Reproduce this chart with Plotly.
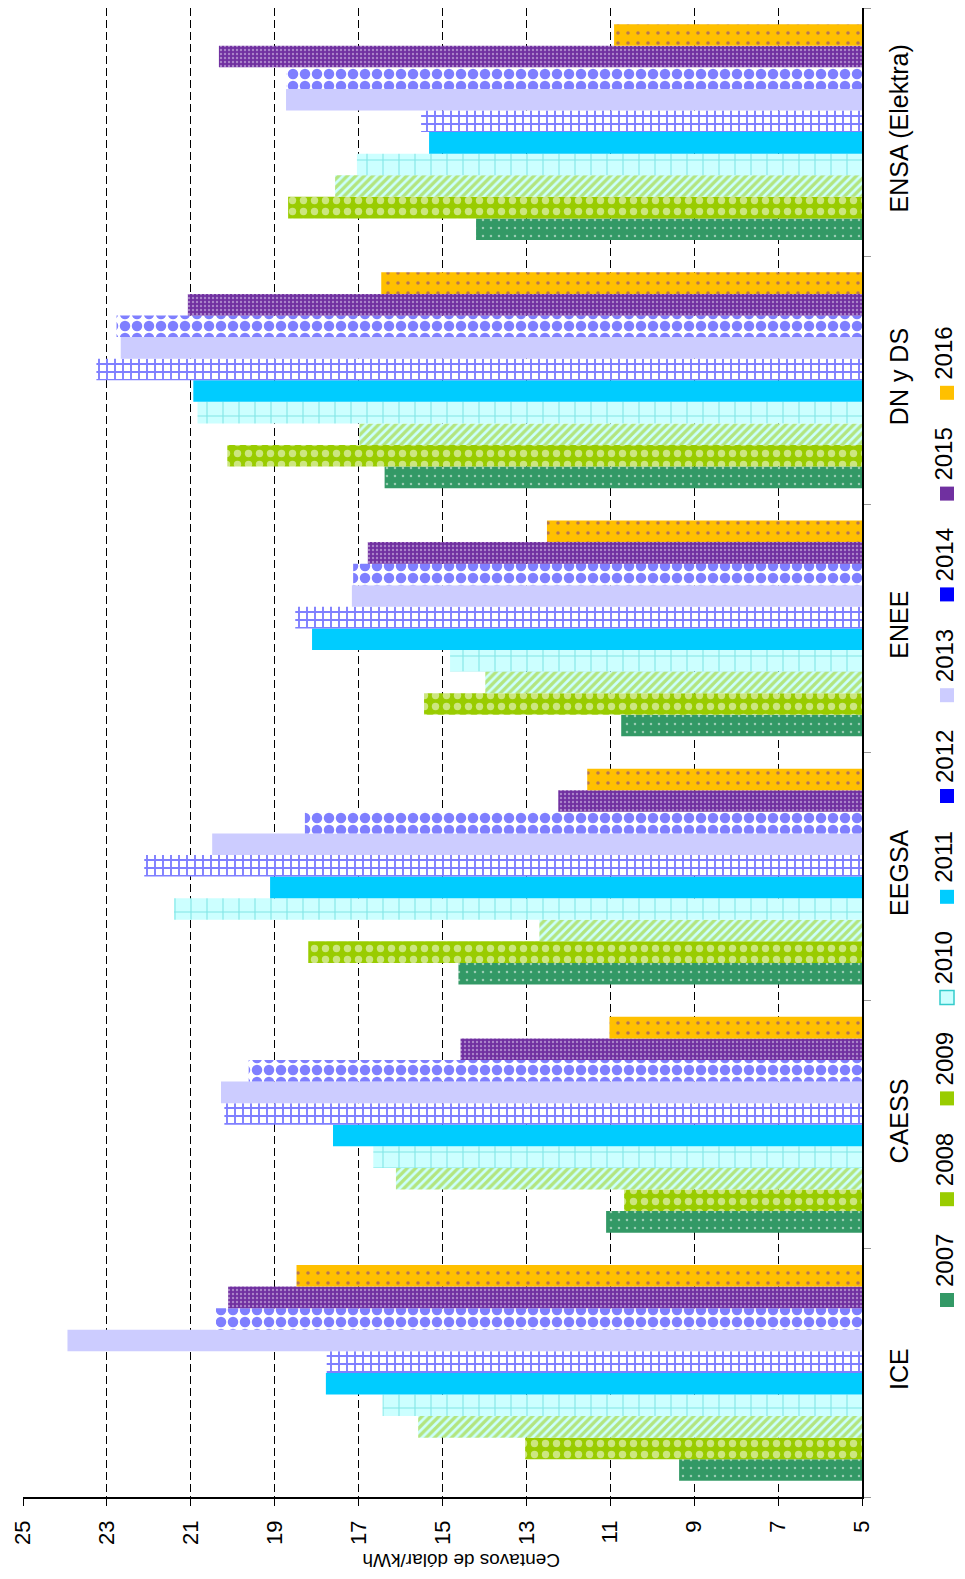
import plotly.graph_objects as go

categories = ["ICE", "CAESS", "EEGSA", "ENEE", "DN y DS", "ENSA (Elektra)"]
years = ["2007", "2008", "2009", "2010", "2011", "2012", "2013", "2014", "2015", "2016"]

v2007 = [9.36, 11.10, 14.62, 10.74, 16.38, 14.20]
v2008 = [13.03, 10.67, 18.20, 15.44, 20.13, 18.68]
v2009 = [15.58, 16.11, 12.69, 13.98, 16.98, 17.56]
v2010 = [16.43, 16.65, 21.40, 14.82, 20.84, 17.04]
v2011 = [17.78, 17.61, 19.11, 18.11, 20.94, 15.32]
v2012 = [17.76, 20.20, 22.11, 18.51, 23.25, 15.51]
v2013 = [23.94, 20.28, 20.49, 17.16, 22.67, 18.73]
v2014 = [20.40, 19.62, 18.28, 17.13, 22.77, 18.73]
v2015 = [20.11, 14.57, 12.24, 16.78, 21.07, 20.33]
v2016 = [18.48, 11.02, 11.55, 12.51, 16.46, 10.91]
series = [v2007, v2008, v2009, v2010, v2011, v2012, v2013, v2014, v2015, v2016]

tick_vals = [5, 7, 9, 11, 13, 15, 17, 19, 21, 23, 25]
axis_title = "Centavos de dólar/kWh"

# style per year: (key colour, pattern dict)
styles = [
    ("#339966", dict(shape=".", fgcolor="#ffffff", bgcolor="#339966", size=8, solidity=0.08)),
    ("#99cc00", dict(shape=".", fgcolor="#ffffff", bgcolor="#99cc00", size=11, solidity=0.35)),
    ("#99cc00", dict(shape="/", fgcolor="#99cc00", bgcolor="#ccffff", size=6, solidity=0.55)),
    ("#ccffff", dict(shape="+", fgcolor="#33cccc", bgcolor="#ccffff", size=16, solidity=0.13)),
    ("#00ccff", dict(shape="", fgcolor="#00ccff", bgcolor="#00ccff")),
    ("#0000ff", dict(shape="+", fgcolor="#0000ff", bgcolor="#ffffff", size=8, solidity=0.42)),
    ("#ccccff", dict(shape="", fgcolor="#ccccff", bgcolor="#ccccff")),
    ("#0000ff", dict(shape=".", fgcolor="#0000ff", bgcolor="#ffffff", size=12, solidity=0.6)),
    ("#7030a0", dict(shape=".", fgcolor="#e6d8f2", bgcolor="#7030a0", size=4, solidity=0.28)),
    ("#ffc000", dict(shape=".", fgcolor="#7030a0", bgcolor="#ffc000", size=10, solidity=0.1)),
]

FONT = "Liberation Sans, Arial, sans-serif"

fig = go.Figure()
for yr, vals, (col, pat) in zip(years, series, styles):
    fig.add_trace(go.Bar(
        y=categories, x=vals, name=yr, orientation="h",
        marker=dict(color=col, pattern=pat, line=dict(width=0)),
        showlegend=False,
    ))

# page has an 8px body margin; size the figure so the page fits the window
OFF = 8
W, H = 965 - 2 * OFF, 1579 - 2 * OFF
L, R, T, B = 23 - OFF, 862 - OFF, 0, 1497 - OFF

def px_to_paper(px, py):
    # px, py are page coordinates
    fx, fy = px - OFF, py - OFF
    return (fx - L) / (R - L), (B - fy) / (B - T)

shapes = []
annotations = []
for i, (yr, (col, pat)) in enumerate(zip(years, styles)):
    cy = 1300 - 100.8 * i
    x0, y0 = px_to_paper(940, cy - 7)
    x1, y1 = px_to_paper(954, cy + 7)
    shapes.append(dict(type="rect", xref="paper", yref="paper",
                       x0=x0, x1=x1, y0=y1, y1=y0,
                       fillcolor=col,
                       line=dict(width=1.5 if col == "#ccffff" else 0, color="#33cccc")))
    tx, ty = px_to_paper(944, cy - 40)
    annotations.append(dict(text=yr, xref="paper", yref="paper", x=tx, y=ty,
                            xanchor="center", yanchor="middle", showarrow=False,
                            borderpad=0,
                            textangle=-90, font=dict(size=24, color="black", family=FONT)))

tx, ty = px_to_paper(461, 1561)
annotations.append(dict(text=axis_title, xref="paper", yref="paper", x=tx, y=ty,
                        xanchor="center", yanchor="middle", showarrow=False,
                        borderpad=0,
                        textangle=180, font=dict(size=19, color="black", family=FONT)))

fig.update_layout(
    width=W, height=H,
    margin=dict(l=L, r=W - R, t=T, b=H - B, pad=0),
    paper_bgcolor="white", plot_bgcolor="white",
    barmode="group", bargap=0.13, bargroupgap=0,
    font=dict(family=FONT, color="black"),
    shapes=shapes, annotations=annotations,
    xaxis=dict(range=[25, 5], tickvals=tick_vals, ticktext=[str(v) for v in tick_vals],
               tickangle=-90, tickfont=dict(size=22, family=FONT), automargin=False,
               showgrid=True, gridcolor="black", gridwidth=1, griddash="8px,4px",
               showline=True, linecolor="black", linewidth=1.5,
               ticks="outside", ticklen=7, tickcolor="black",
               ticklabelstandoff=6, zeroline=False),
    yaxis=dict(type="category", side="right", tickangle=-90, automargin=False,
               tickfont=dict(size=25, family=FONT),
               showline=True, linecolor="black", linewidth=1.5,
               ticks="outside", tickson="boundaries", ticklen=7, tickcolor="#999999",
               ticklabelstandoff=14, showgrid=False, zeroline=False),
)

fig.write_html("out.html")
